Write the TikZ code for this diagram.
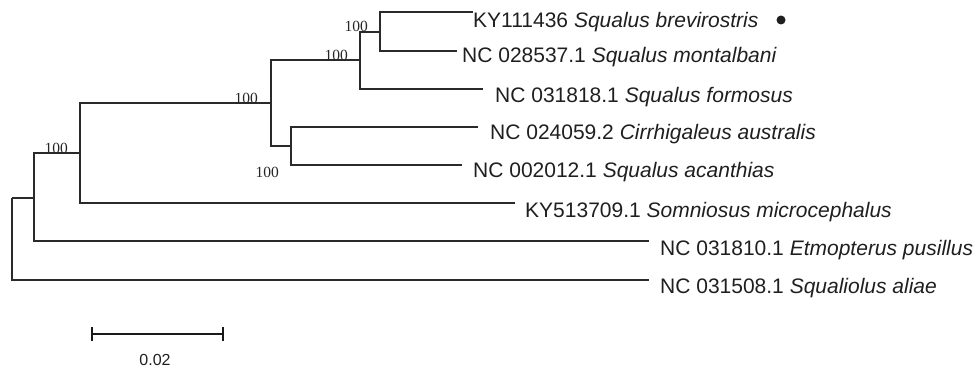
\documentclass[tikz,border=0pt]{standalone}
\usepackage{fontspec}
\setmainfont{Liberation Sans}
\newfontfamily\timesfam{Liberation Serif}
\newcommand\taxfont{\fontsize{21}{25}\selectfont}
\newcommand\bootfont{\timesfam\fontsize{15.5}{18}\selectfont}
\newcommand\sbfont{\fontsize{16}{19}\selectfont}
\definecolor{treeline}{HTML}{2A2A2A}
\begin{document}
\begin{tikzpicture}[x=1pt,y=-1pt,
  branch/.style={draw=treeline,line width=1.3pt},
  taxon/.style={anchor=base west,inner sep=0pt,text=black!88,font=\taxfont},
  boot/.style={anchor=base east,inner sep=0pt,text=black!85,font=\bootfont},
  sbar/.style={draw=black!90,line width=2pt}]
\useasboundingbox (0,0) rectangle (979,369);
% internal nodes
\coordinate (root) at (12,198);
\coordinate (A) at (34,198);
\coordinate (B) at (80,153);
\coordinate (C) at (271,103);
\coordinate (D) at (360,60);
\coordinate (E) at (380,32);
\coordinate (F) at (291,146);
% leaf tips
\coordinate (tBr) at (473,12);
\coordinate (tMo) at (457,51);
\coordinate (tFo) at (483,89);
\coordinate (tCi) at (478,127);
\coordinate (tAc) at (462,165);
\coordinate (tSo) at (515,203);
\coordinate (tEt) at (649,241);
\coordinate (tSq) at (649,280);
% branches
\path[branch] (root) |- (A);
\path[branch] (root) |- (tSq);
\path[branch] (A) |- (B);
\path[branch] (A) |- (tEt);
\path[branch] (B) |- (C);
\path[branch] (B) |- (tSo);
\path[branch] (C) |- (D);
\path[branch] (C) |- (F);
\path[branch] (D) |- (E);
\path[branch] (D) |- (tFo);
\path[branch] (E) |- (tBr);
\path[branch] (E) |- (tMo);
\path[branch] (F) |- (tCi);
\path[branch] (F) |- (tAc);
% taxa labels
\node[taxon] (lBr) at (473,28) {KY111436 \textit{Squalus brevirostris}};
\node[taxon] (lMo) at (462,63) {NC 028537.1 \textit{Squalus montalbani}};
\node[taxon] (lFo) at (495,102) {NC 031818.1 \textit{Squalus formosus}};
\node[taxon] (lCi) at (490,139) {NC 024059.2 \textit{Cirrhigaleus australis}};
\node[taxon] (lAc) at (473,177) {NC 002012.1 \textit{Squalus acanthias}};
\node[taxon] (lSo) at (525,217) {KY513709.1 \textit{Somniosus microcephalus}};
\node[taxon] (lEt) at (660,255) {NC 031810.1 \textit{Etmopterus pusillus}};
\node[taxon] (lSq) at (660,293) {NC 031508.1 \textit{Squaliolus aliae}};
\node[circle,fill=black!88,inner sep=0pt,minimum size=9pt] (dot) at (781,20) {};
% bootstrap values
\node[boot] (bE) at ([xshift=-12pt]E) {100};
\node[boot] (bD) at ([xshift=-12pt]D) {100};
\node[boot] (bC) at ([xshift=-13pt]C) {100};
\node[boot] (bB) at ([xshift=-12pt]B) {100};
\node[boot] (bF) at ([xshift=-12pt,yshift=-31pt]F) {100};
% scale bar
\coordinate (s1) at (92,334);
\coordinate (s2) at (223,334);
\path[sbar] (s1) -- (s2);
\path[sbar] ([yshift=7pt]s1) -- ([yshift=-7pt]s1);
\path[sbar] ([yshift=7pt]s2) -- ([yshift=-7pt]s2);
\node[anchor=base,inner sep=0pt,text=black!88,font=\sbfont] (sl) at (155,365) {0.02};
\end{tikzpicture}
\end{document}
